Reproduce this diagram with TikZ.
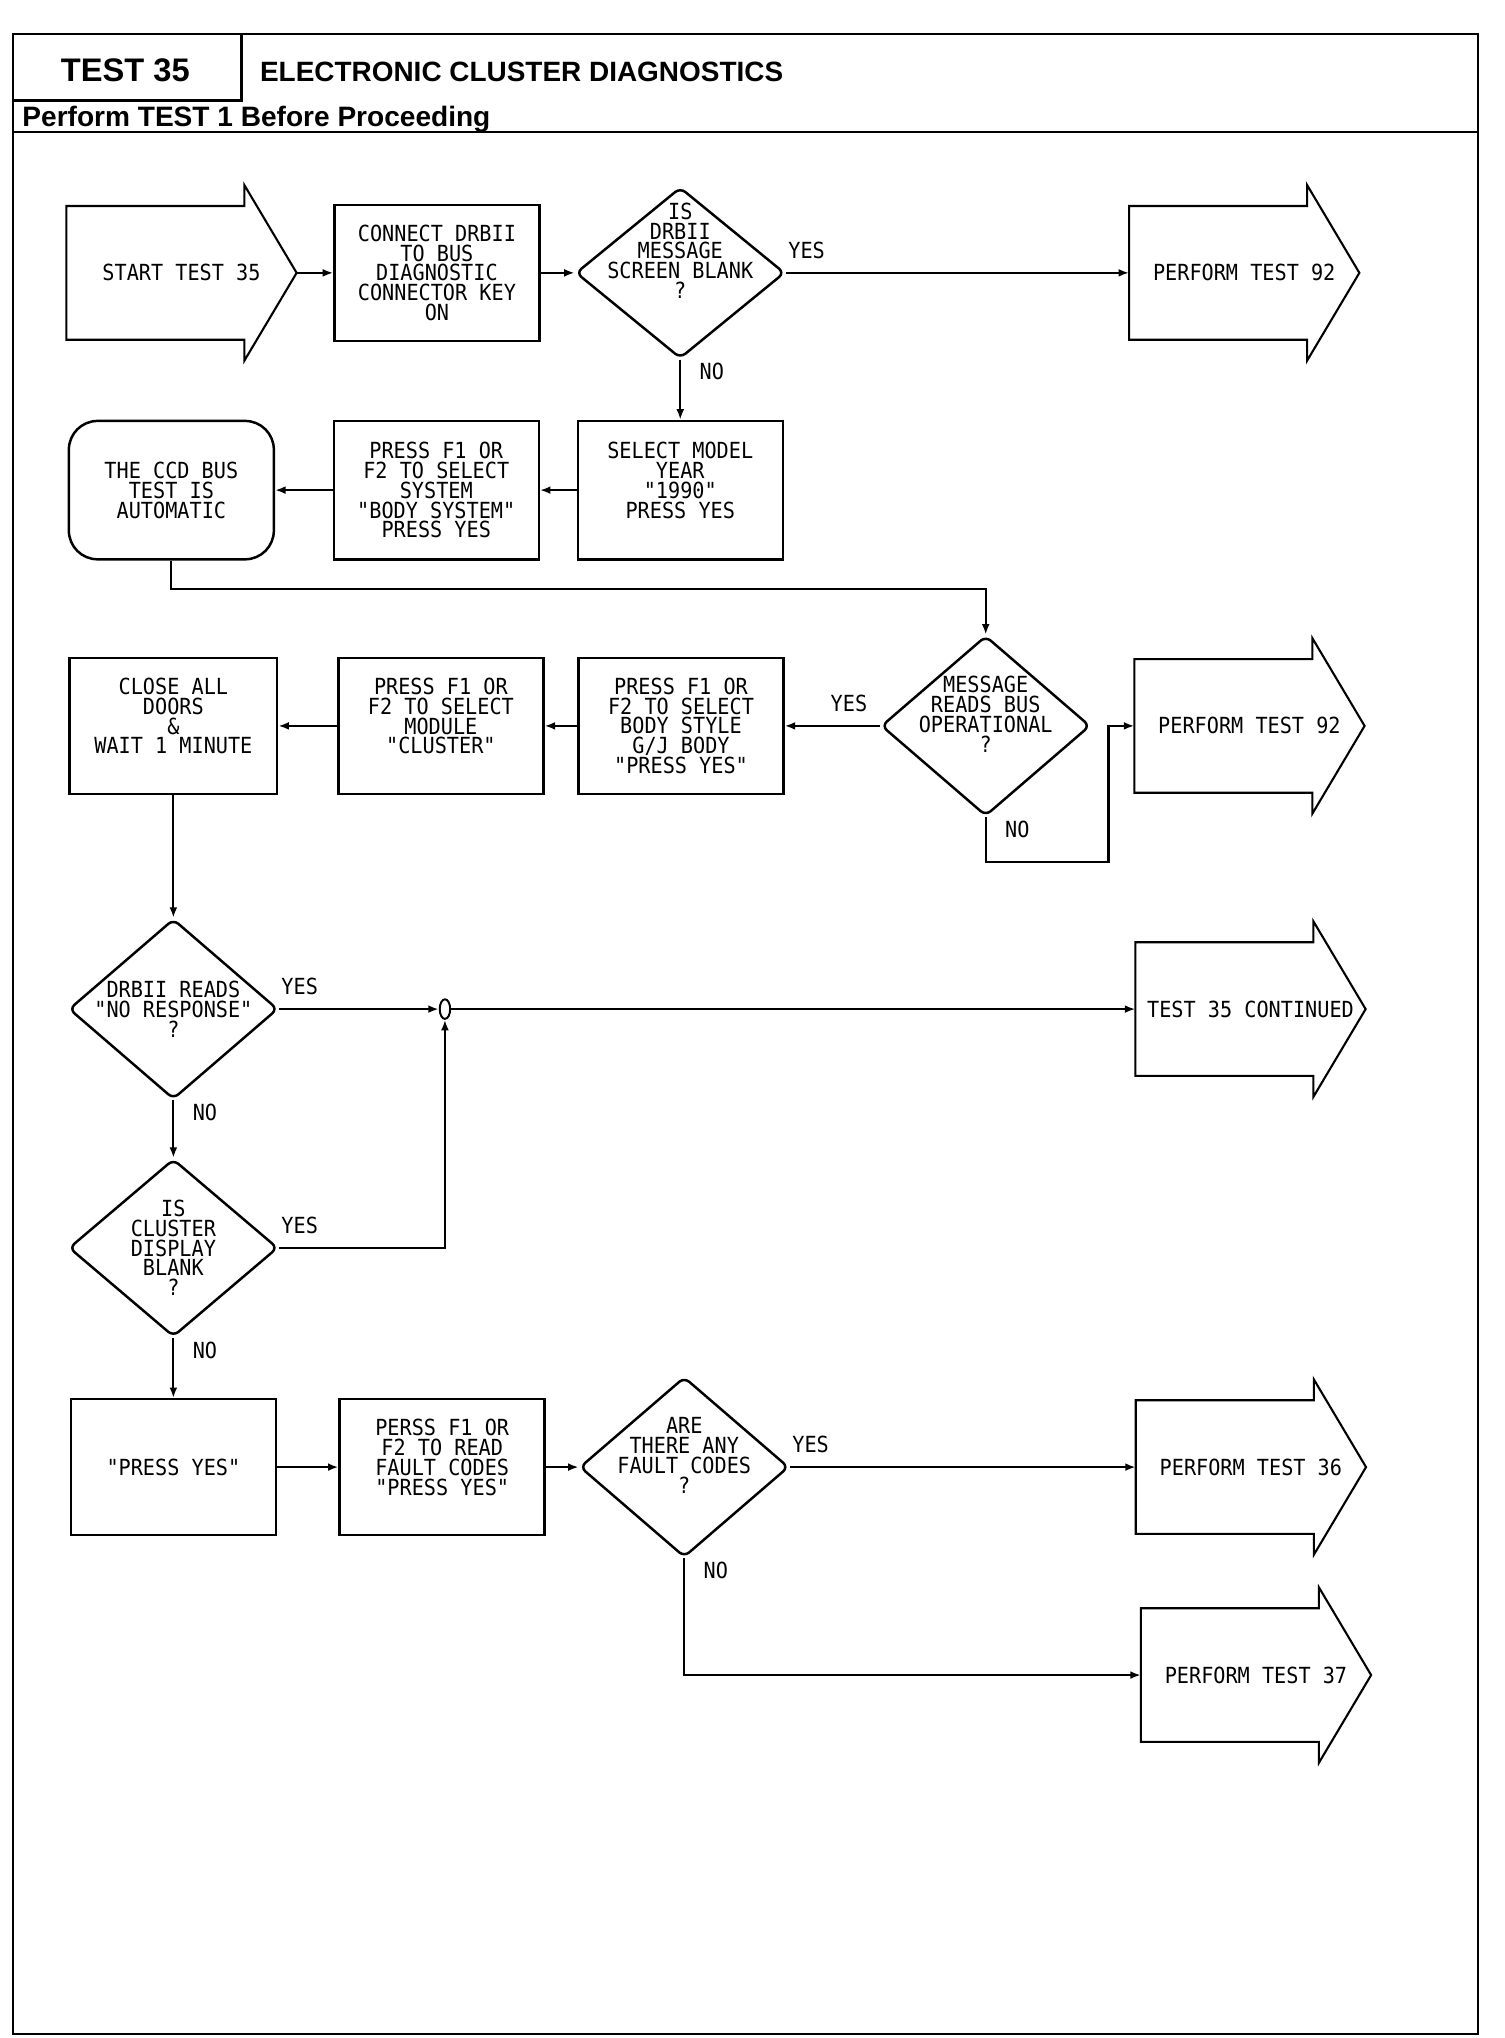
\documentclass[tikz,border=0pt]{standalone}
\usepackage{fontspec}
\setmainfont{Liberation Sans}
\newfontfamily\plotfont{DejaVu Sans Mono}[FakeStretch=0.91]
\usetikzlibrary{calc}
\usetikzlibrary{positioning}
\usetikzlibrary{shapes.geometric}
\usetikzlibrary{arrows.meta}

\newcommand{\exitoutline}[1]{%
  \draw[pageoutline] (#1.north west) -- ([xshift=-40pt]#1.north east)
    -- ([xshift=-40pt,yshift=16pt]#1.north east) -- (#1.east)
    -- ([xshift=-40pt,yshift=-16pt]#1.south east) -- ([xshift=-40pt]#1.south east)
    -- (#1.south west) -- cycle;}

\begin{document}
\begin{tikzpicture}[x=1pt, y=-1pt,
	every node/.style={font=\plotfont\fontsize{17}{15.2}\selectfont, align=center},
	stepbox/.style={draw, line width=1.9pt, minimum width=157pt, minimum height=104pt, inner sep=0pt},
	autobox/.style={stepbox, rounded corners=22pt},
	decision/.style={diamond, draw, line width=1.9pt, rounded corners=5pt, minimum width=160pt, minimum height=137pt, inner sep=0pt},
	exitarrow/.style={minimum width=176pt, minimum height=102pt, inner sep=0pt},
	pageoutline/.style={line width=1.6pt},
	link/.style={line width=1.7pt, -{Latex[length=8pt, width=6pt]}},
	yeslabel/.style={anchor=south west, inner sep=0pt, xshift=1pt, yshift=10pt},
	yesleft/.style={anchor=south east, inner sep=0pt, xshift=-9pt, yshift=10pt},
	nolabel/.style={anchor=north west, inner sep=0pt, xshift=14pt, yshift=-2pt}]
	\useasboundingbox (0,0) rectangle (1152,1561);
	% frame and header
	\draw[line width=2pt] (10,26) rectangle (1132,1558);
	\draw[line width=1.8pt] (185,26) -- (185,77) -- (10,77);
	\draw[line width=2pt] (10,101) -- (1132,101);
	\node[font=\fontsize{25}{25}\selectfont\bfseries, inner sep=0pt] (testno) at (96,54) {TEST 35};
	\node[font=\fontsize{21.4}{21.4}\selectfont\bfseries, inner sep=0pt, anchor=west] (title) at (199,55) {ELECTRONIC CLUSTER DIAGNOSTICS};
	\node[font=\fontsize{21.5}{21.5}\selectfont\bfseries, inner sep=0pt, anchor=west] (prereq) at (17,91) {Perform TEST 1 Before Proceeding};
	% row 1
	\node[exitarrow] (start) at (139,209) {START TEST 35};
	\node[stepbox, right=28pt of start] (connect) {CONNECT DRBII\\TO BUS\\DIAGNOSTIC\\CONNECTOR KEY\\ON};
	\node[decision, minimum height=131pt, right=26pt of connect] (blank) {};
	\node (blanktxt) at ([yshift=17pt]blank) {IS\\DRBII\\MESSAGE\\SCREEN BLANK\\?};
	\node[exitarrow] (test92a) at (953,209) {PERFORM TEST 92};
	% row 2
	\node[stepbox, minimum height=106pt, below=46pt of blank] (year) {SELECT MODEL\\YEAR\\"1990"\\PRESS YES\\\mbox{}};
	\node[stepbox, minimum height=106pt, left=28pt of year] (system) {PRESS F1 OR\\F2 TO SELECT\\SYSTEM\\"BODY SYSTEM"\\PRESS YES};
	\node[autobox, minimum height=106pt, left=44pt of system] (ccdbus) {THE CCD BUS\\TEST IS\\AUTOMATIC};
	% row 3
	\node[decision, minimum height=138pt] (busok) at (755,556) {};
	\node (busoktxt) at ([yshift=9pt]busok) {MESSAGE\\READS BUS\\OPERATIONAL\\?};
	\node[exitarrow] (test92b) at (957,556) {PERFORM TEST 92};
	\coordinate (busokloop) at (849,660);
	\node[stepbox, left=73pt of busok] (bodystyle) {PRESS F1 OR\\F2 TO SELECT\\BODY STYLE\\G/J BODY\\"PRESS YES"};
	\node[stepbox, left=25pt of bodystyle] (module) {PRESS F1 OR\\F2 TO SELECT\\MODULE\\"CLUSTER"\\\mbox{}};
	\node[stepbox, minimum width=159pt, left=45pt of module] (doors) {CLOSE ALL\\DOORS\\\&\\WAIT 1 MINUTE\\\mbox{}};
	% rows 4 and 5
	\node[decision, minimum height=138pt, below=94pt of doors] (noresp) {};
	\node (noresptxt) at (noresp) {DRBII READS\\"NO RESPONSE"\\?};
	\node[ellipse, draw, line width=1.5pt, minimum width=8pt, minimum height=15pt, inner sep=0pt] (junction) at ($(noresp)+(208,0)$) {};
	\node[exitarrow] (continued) at ($(junction)+(617,0)$) {TEST 35 CONTINUED};
	\node[decision, minimum height=136pt, below=44pt of noresp] (display) {};
	\node (displaytxt) at (display) {IS\\CLUSTER\\DISPLAY\\BLANK\\?};
	% row 6
	\node[stepbox, below=46pt of display] (pressyes) {"PRESS YES"};
	\node[stepbox, right=47pt of pressyes] (readcodes) {PERSS F1 OR\\F2 TO READ\\FAULT CODES\\"PRESS YES"\\\mbox{}};
	\node[decision, minimum height=138pt, right=25pt of readcodes] (codes) {};
	\node (codestxt) at ([yshift=9pt]codes) {ARE\\THERE ANY\\FAULT CODES\\?};
	\node[exitarrow] (test36) at ($(codes)+(434,0)$) {PERFORM TEST 36};
	\node[exitarrow] (test37) at (962,1283) {PERFORM TEST 37};
	% arrow outlines
	\exitoutline{start}
	\exitoutline{test92a}
	\exitoutline{test92b}
	\exitoutline{continued}
	\exitoutline{test36}
	\exitoutline{test37}
	% connectors
	\draw[link] (start) -- (connect);
	\draw[link] (connect) -- (blank);
	\draw[link] (blank.east) -- node[yeslabel, pos=0] (yes1) {YES} (test92a);
	\draw[link] (blank) -- node[nolabel, pos=0] (no1) {NO} (year);
	\draw[link] (year) -- (system);
	\draw[link] (system) -- (ccdbus);
	\draw[link] (ccdbus.south) -- ++(0,22) -| (busok.north);
	\draw[link] (busok) -- node[yesleft, pos=0] (yes2) {YES} (bodystyle);
	\draw[link] (busok.south) |- node[nolabel, pos=0] (no2) {NO} (busokloop) |- (test92b.west);
	\draw[link] (bodystyle) -- (module);
	\draw[link] (module) -- (doors);
	\draw[link] (doors) -- (noresp);
	\draw[link] (noresp.east) -- node[yeslabel, pos=0] (yes3) {YES} (junction.west);
	\draw[link] (junction) -- (continued);
	\draw[link] (noresp) -- node[nolabel, pos=0] (no3) {NO} (display);
	\draw[link] (display.east) -| node[yeslabel, pos=0] (yes4) {YES} (junction.south);
	\draw[link] (display) -- node[nolabel, pos=0] (no4) {NO} (pressyes);
	\draw[link] (pressyes) -- (readcodes);
	\draw[link] (readcodes) -- (codes);
	\draw[link] (codes.east) -- node[yeslabel, pos=0] (yes5) {YES} (test36);
	\draw[link] (codes.south) |- node[nolabel, pos=0] (no5) {NO} (test37.west);
\end{tikzpicture}
\end{document}
